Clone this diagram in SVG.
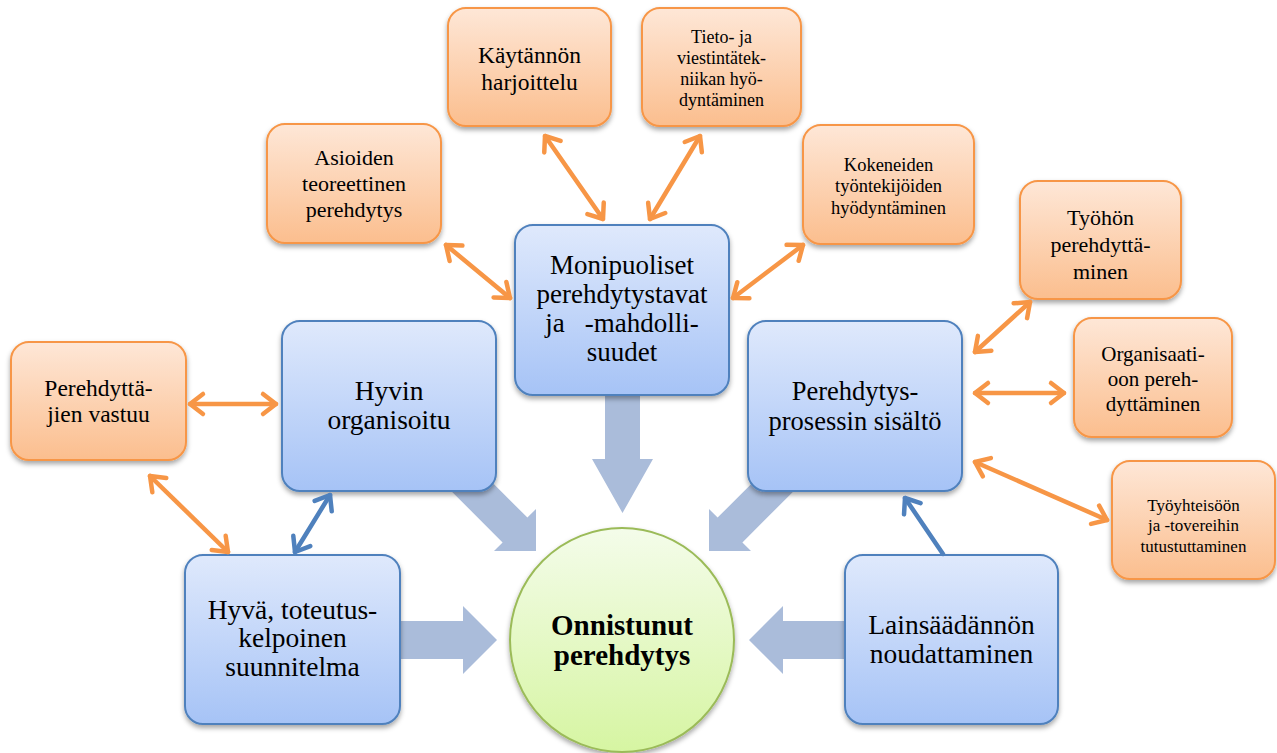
<svg xmlns="http://www.w3.org/2000/svg" width="1277" height="753" viewBox="0 0 1277 753">
<defs>
<linearGradient id="gOr" x1="0" y1="0" x2="0" y2="1"><stop offset="0" stop-color="#FEE7D7"/><stop offset="1" stop-color="#FBBE8E"/></linearGradient>
<linearGradient id="gBl" x1="0" y1="0" x2="0" y2="1"><stop offset="0" stop-color="#DFE9FC"/><stop offset="1" stop-color="#A6C3F6"/></linearGradient>
<linearGradient id="gGr" x1="0" y1="0" x2="0" y2="1"><stop offset="0" stop-color="#F4FCEA"/><stop offset="1" stop-color="#D6F5A2"/></linearGradient>
<filter id="sh" x="-20%" y="-20%" width="140%" height="150%"><feDropShadow dx="0" dy="3" stdDeviation="2.5" flood-color="#000" flood-opacity="0.35"/></filter>
<marker id="mO" markerUnits="userSpaceOnUse" viewBox="-20 -15 30 30" markerWidth="30" markerHeight="30" refX="0" refY="0" orient="auto-start-reverse" overflow="visible"><path d="M-13,-10 L0,0 L-13,10" fill="none" stroke="#F79646" stroke-width="4.5" stroke-linecap="round" stroke-linejoin="round"/></marker>
<marker id="mB" markerUnits="userSpaceOnUse" viewBox="-20 -15 30 30" markerWidth="30" markerHeight="30" refX="0" refY="0" orient="auto-start-reverse" overflow="visible"><path d="M-13,-10 L0,0 L-13,10" fill="none" stroke="#4F81BD" stroke-width="4.5" stroke-linecap="round" stroke-linejoin="round"/></marker>
</defs>
<style>
.or{fill:url(#gOr);stroke:#F79646;stroke-width:2;filter:url(#sh)}
.bl{fill:url(#gBl);stroke:#4F81BD;stroke-width:2;filter:url(#sh)}
.gr{fill:url(#gGr);stroke:#9BBB59;stroke-width:2;filter:url(#sh)}
.t{font-family:'Liberation Serif','DejaVu Serif',serif;fill:#000;text-anchor:middle}
.blk{fill:#AABCDA}
.co{stroke:#F79646;stroke-width:4.5;fill:none;stroke-linecap:round;marker-start:url(#mO);marker-end:url(#mO)}
.cb{stroke:#4F81BD;stroke-width:4.5;fill:none;stroke-linecap:round;marker-end:url(#mB)}
.cb2{marker-start:url(#mB)}
</style>
<rect width="1277" height="753" fill="#fff"/>
<g id="block-arrows">
<polygon class="blk" points="605,390 640,390 640,459 653,459 622.5,513 592,459 605,459"/>
<polygon class="blk" points="447.4,437.6 527.4,517.6 536,509 536,551 494,551 502.6,542.4 422.6,462.4"/>
<polygon class="blk" points="797.6,437.6 717.6,517.6 709,509 709,551 751,551 742.4,542.4 822.4,462.4"/>
<polygon class="blk" points="395,621 463,621 463,606 497,640 463,674 463,659 395,659"/>
<polygon class="blk" points="850,621 783,621 783,606 749,640 783,674 783,659 850,659"/>
</g>
<g font-family="Liberation Serif, DejaVu Serif, serif">
<g id="n-kaytannon"><rect class="or" x="448" y="8" width="163" height="118" rx="18"/>
<text class="t" font-size="23.5"><tspan x="529.5" y="63">Käytännön</tspan><tspan x="529.5" y="90">harjoittelu</tspan></text></g>
<g id="n-tieto"><rect class="or" x="642" y="8" width="159" height="118" rx="18"/>
<text class="t" font-size="18"><tspan x="721.5" y="43">Tieto- ja</tspan><tspan x="721.5" y="64">viestintätek-</tspan><tspan x="721.5" y="85">niikan hyö-</tspan><tspan x="721.5" y="106">dyntäminen</tspan></text></g>
<g id="n-asioiden"><rect class="or" x="267" y="124" width="174" height="119" rx="18"/>
<text class="t" font-size="22"><tspan x="354" y="165">Asioiden</tspan><tspan x="354" y="191">teoreettinen</tspan><tspan x="354" y="217">perehdytys</tspan></text></g>
<g id="n-kokeneiden"><rect class="or" x="803" y="125" width="171" height="119" rx="18"/>
<text class="t" font-size="18.5"><tspan x="888.5" y="171">Kokeneiden</tspan><tspan x="888.5" y="192">työntekijöiden</tspan><tspan x="888.5" y="214">hyödyntäminen</tspan></text></g>
<g id="n-tyohon"><rect class="or" x="1020" y="181" width="161" height="118" rx="18"/>
<text class="t" font-size="22"><tspan x="1100.5" y="225">Työhön</tspan><tspan x="1100.5" y="252">perehdyttä-</tspan><tspan x="1100.5" y="279">minen</tspan></text></g>
<g id="n-organisaatioon"><rect class="or" x="1074" y="318" width="158" height="119" rx="18"/>
<text class="t" font-size="21"><tspan x="1153" y="361">Organisaati-</tspan><tspan x="1153" y="386">oon pereh-</tspan><tspan x="1153" y="411">dyttäminen</tspan></text></g>
<g id="n-tyoyhteisoon"><rect class="or" x="1112" y="461" width="163" height="118" rx="18"/>
<text class="t" font-size="17"><tspan x="1193.5" y="511">Työyhteisöön</tspan><tspan x="1193.5" y="531">ja -tovereihin</tspan><tspan x="1193.5" y="552">tutustuttaminen</tspan></text></g>
<g id="n-perehdyttajien"><rect class="or" x="11" y="342" width="175" height="118" rx="18"/>
<text class="t" font-size="23.5"><tspan x="98.5" y="396">Perehdyttä-</tspan><tspan x="98.5" y="422">jien vastuu</tspan></text></g>
<g id="n-monipuoliset"><rect class="bl" x="515" y="225" width="214" height="170" rx="18"/>
<text class="t" font-size="27"><tspan x="622" y="274">Monipuoliset</tspan><tspan x="622" y="303">perehdytystavat</tspan><tspan x="622" y="332">ja<tspan dx="20">-mahdolli-</tspan></tspan><tspan x="622" y="361">suudet</tspan></text></g>
<g id="n-hyvin"><rect class="bl" x="282" y="321" width="214" height="170" rx="18"/>
<text class="t" font-size="27.5"><tspan x="389" y="400">Hyvin</tspan><tspan x="389" y="429">organisoitu</tspan></text></g>
<g id="n-prosessi"><rect class="bl" x="748" y="321" width="214" height="170" rx="18"/>
<text class="t" font-size="26.5"><tspan x="855" y="400">Perehdytys-</tspan><tspan x="855" y="430">prosessin sisältö</tspan></text></g>
<g id="n-hyva"><rect class="bl" x="185" y="555" width="215" height="169" rx="18"/>
<text class="t" font-size="27.5"><tspan x="292.5" y="619">Hyvä, toteutus-</tspan><tspan x="292.5" y="647">kelpoinen</tspan><tspan x="292.5" y="676">suunnitelma</tspan></text></g>
<g id="n-lainsaadannon"><rect class="bl" x="845" y="555" width="213" height="169" rx="18"/>
<text class="t" font-size="27.5"><tspan x="951.5" y="634">Lainsäädännön</tspan><tspan x="951.5" y="663">noudattaminen</tspan></text></g>
<g id="n-onnistunut"><ellipse class="gr" cx="622" cy="640" rx="112" ry="112"/>
<text class="t" font-size="29" font-weight="bold"><tspan x="622" y="635">Onnistunut</tspan><tspan x="622" y="665">perehdytys</tspan></text></g>
</g>
<g id="connectors">
<line class="co" x1="545" y1="136" x2="603" y2="219"/>
<line class="co" x1="700" y1="136" x2="650" y2="219"/>
<line class="co" x1="446" y1="245" x2="510" y2="298"/>
<line class="co" x1="803" y1="245" x2="733" y2="298"/>
<line class="co" x1="1030" y1="302" x2="975" y2="352"/>
<line class="co" x1="975" y1="393" x2="1064" y2="393"/>
<line class="co" x1="975" y1="462" x2="1107" y2="520"/>
<line class="co" x1="190" y1="404" x2="276" y2="404"/>
<line class="co" x1="150" y1="476" x2="228" y2="552"/>
<line class="cb cb2" x1="330" y1="495" x2="295" y2="552"/>
<line class="cb" x1="943" y1="554" x2="905" y2="498"/>
</g>
</svg>
